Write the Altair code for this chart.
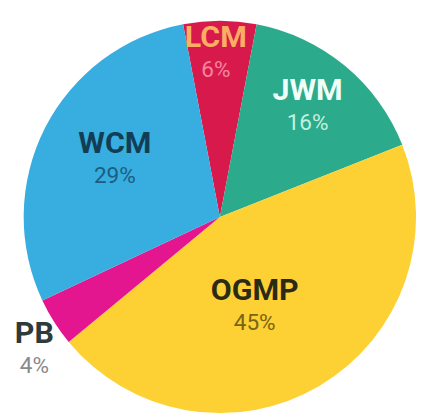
import math
import altair as alt
import pandas as pd

# ---- data ----
categories = ["LCM", "JWM", "OGMP", "PB", "WCM"]
shares = [6, 16, 45, 4, 29]
pct_labels = ["6%", "16%", "45%", "4%", "29%"]

# ---- styles ----
slice_colors = ["#D8194C", "#2BAA8C", "#FDD133", "#E3168F", "#37ADE0"]
name_colors = ["#FBAE63", "#F0FFF7", "#2A2A17", "#2E3B3B", "#123E55"]
pct_colors = ["#F4859C", "#C2F0DE", "#7A6414", "#8A8A8A", "#1D5E80"]

# label layout (pixel radius, small angular nudge in data units)
label_radius = {"LCM": 182, "JWM": 156, "OGMP": 84, "PB": 224, "WCM": 130}
label_nudge = {"LCM": -0.36, "JWM": -1.28, "OGMP": 1.56, "PB": 0.0, "WCM": 2.1}


def mapping_expr(d):
    expr = "0"
    for k, v in d.items():
        expr = f"datum.cat == '{k}' ? {v} : ({expr})"
    return expr


df = pd.DataFrame({
    "cat": categories,
    "share": shares,
    "pct": pct_labels,
    "order": list(range(len(categories))),
})

start = math.radians(-10.8)
theta_scale = alt.Scale(domain=[0, 100], range=[start, start + 2 * math.pi])

CX, CY = 216, 209

base = alt.Chart(df)

pie = base.mark_arc(outerRadius=200, stroke=None).encode(
    theta=alt.Theta("share:Q", stack=True, scale=theta_scale),
    color=alt.Color("cat:N", scale=alt.Scale(domain=categories, range=slice_colors), legend=None),
    order=alt.Order("order:Q", sort="ascending"),
    x=alt.value(CX),
    y=alt.value(CY),
)

lab = base.transform_window(
    cum="sum(share)", sort=[alt.SortField("order")]
).transform_calculate(
    mid=f"datum.cum - datum.share / 2 + ({mapping_expr(label_nudge)})",
    lr=mapping_expr(label_radius),
)

names = lab.mark_text(
    font="Roboto", fontSize=31, fontWeight="bold", align="center", baseline="middle"
).encode(
    theta=alt.Theta("mid:Q", scale=theta_scale, stack=None),
    radius=alt.Radius("lr:Q", scale=None),
    text="cat:N",
    color=alt.Color("cat:N", scale=alt.Scale(domain=categories, range=name_colors), legend=None),
    x=alt.value(CX),
    y=alt.value(CY),
)

pcts = lab.mark_text(
    font="Roboto", fontSize=23, align="center", baseline="middle", dy=32
).encode(
    theta=alt.Theta("mid:Q", scale=theta_scale, stack=None),
    radius=alt.Radius("lr:Q", scale=None),
    text="pct:N",
    color=alt.Color("cat:N", scale=alt.Scale(domain=categories, range=pct_colors), legend=None),
    x=alt.value(CX),
    y=alt.value(CY),
)

chart = alt.layer(pie, names, pcts).resolve_scale(
    color="independent"
).properties(
    width=418, height=411, padding=0, background="white"
).configure_view(stroke=None)

chart.save("out.html", embed_options={"renderer": "svg", "actions": False})
